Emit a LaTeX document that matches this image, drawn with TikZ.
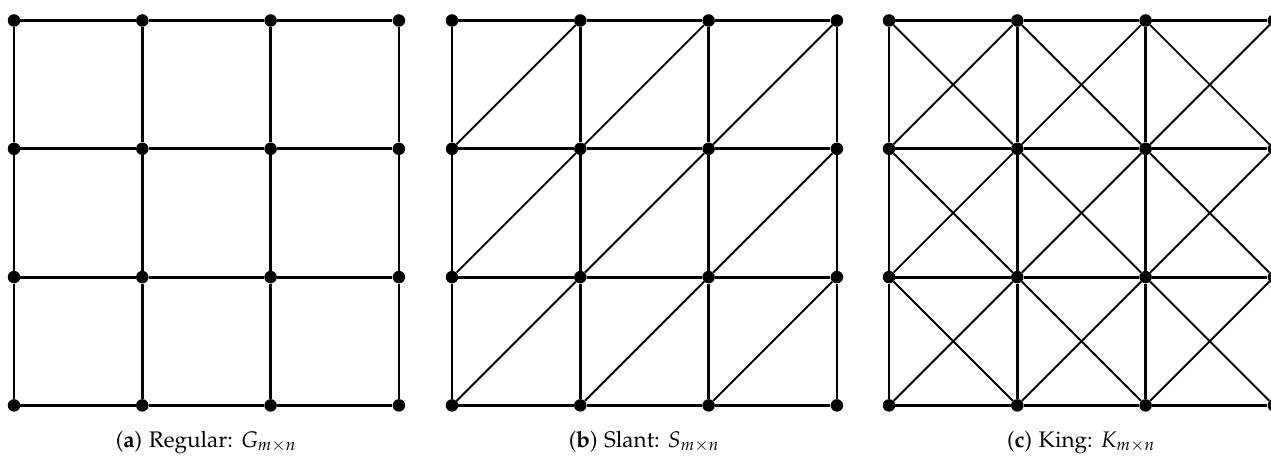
\documentclass[tikz,border=0pt]{standalone}
\usepackage[T1]{fontenc}
\usepackage[sc]{mathpazo}
\begin{document}
\begin{tikzpicture}[x=1pt,y=-1pt,
  dot/.style={circle,fill=black,inner sep=0pt,minimum size=12.5pt},
  edge/.style={line width=2.8pt},
  diag/.style={line width=1.9pt},
  captext/.style={font=\fontsize{22.5}{26}\selectfont,anchor=base}]
\useasboundingbox (0,0) rectangle (1271,457);
\foreach \g/\x in {a/14,b/452,c/889} {
  \foreach \i in {0,...,3} {
    \foreach \j in {0,...,3} {
      \node[dot] (\g-\i-\j) at (\x+\i*128.3, 20.5+\j*128.3) {};
    }
  }
}
% grid edges
\foreach \g in {a,b,c} {
  \foreach \i in {0,...,3} {
    \foreach \j in {0,1,2} {
      \pgfmathtruncatemacro{\k}{\j+1}
      \draw[edge] (\g-\i-\j) -- (\g-\i-\k);
      \draw[edge] (\g-\j-\i) -- (\g-\k-\i);
    }
  }
}
% slant diagonals
\foreach \i in {0,1,2} {
  \foreach \j in {0,1,2} {
    \pgfmathtruncatemacro{\ii}{\i+1}
    \pgfmathtruncatemacro{\jj}{\j+1}
    \draw[diag] (b-\i-\jj) -- (b-\ii-\j);
    \draw[diag] (c-\i-\jj) -- (c-\ii-\j);
    \draw[diag] (c-\i-\j) -- (c-\ii-\jj);
  }
}
\node[captext] (capa) at (206,447) {(\textbf{a}) Regular: $G_{m\times n}$};
\node[captext] (capb) at (644,447) {(\textbf{b}) Slant: $S_{m\times n}$};
\node[captext] (capc) at (1081,447) {(\textbf{c}) King: $K_{m\times n}$};
\end{tikzpicture}
\end{document}
